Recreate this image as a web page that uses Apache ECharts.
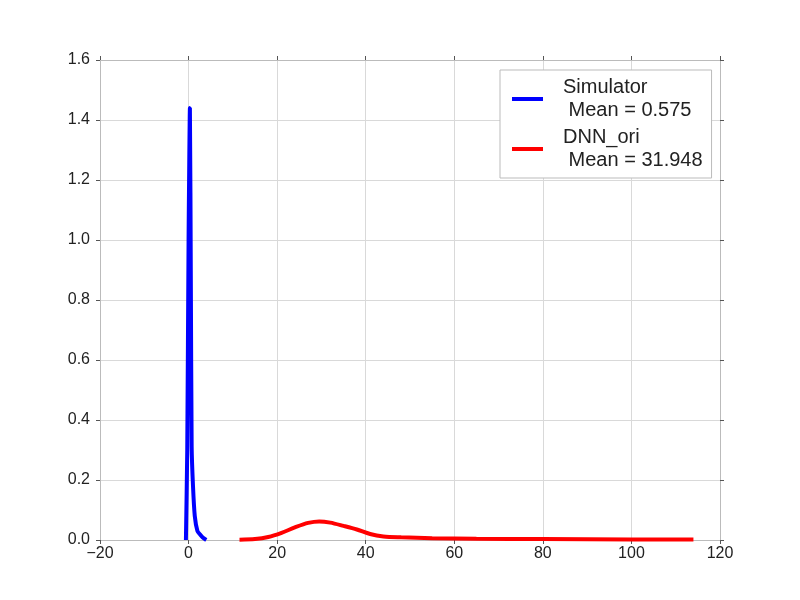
<!DOCTYPE html>
<html>
<head>
<meta charset="utf-8">
<script src="https://cdn.jsdelivr.net/npm/echarts@6/dist/echarts.min.js"></script>
<style>
  html, body { margin: 0; padding: 0; background: #fff; }
  #chart { width: 800px; height: 600px; }
</style>
</head>
<body>
<div id="chart"></div>
<script>
// density curves
var simulatorPts = [
  [-0.6, 0], [-0.3, 0.3], [0.0, 1.0], [0.3, 1.44], [0.5, 0.9], [0.7, 0.31],
  [1.0, 0.18], [1.4, 0.08], [2.0, 0.03], [2.6, 0.018], [3.2, 0.008], [4.0, 0]
];
var dnnPts = [
  [11.5, 0.001], [15, 0.003], [18, 0.01], [21, 0.024], [24, 0.042], [27, 0.057],
  [29.5, 0.062], [32, 0.058], [35, 0.047], [38, 0.035], [41, 0.02], [44, 0.012],
  [48, 0.009], [55, 0.006], [65, 0.004], [80, 0.003], [100, 0.002], [114, 0.002]
];
var seriesNames = ['Simulator\n Mean = 0.575', 'DNN_ori\n Mean = 31.948'];
var seriesColors = ['#0000ff', '#ff0000'];

var font = 'Liberation Sans, Arial, sans-serif';
var chart = echarts.init(document.getElementById('chart'));

var axisLine = { show: true, onZero: false, lineStyle: { color: '#bbbbbb', width: 1 } };
var axisTick = { show: true, inside: false, length: 4, lineStyle: { color: '#555' } };

// top / right copies only carry the frame and the outward ticks
function edgeAxis(pos, isX) {
  return {
    type: 'value',
    position: pos,
    min: isX ? -20 : 0,
    max: isX ? 120 : 1.6,
    interval: isX ? 20 : 0.2,
    axisLine: axisLine,
    axisTick: axisTick,
    splitLine: { show: false },
    axisLabel: { show: false }
  };
}

var option = {
  animation: false,
  grid: { left: 100, right: 80, top: 60, bottom: 60, show: false },
  legend: {
    data: seriesNames,
    orient: 'vertical',
    left: 500,
    top: 70,
    icon: 'rect',
    itemWidth: 31,
    itemHeight: 4,
    itemGap: 4,
    padding: [6, 9, 6, 12],
    borderColor: '#bbbbbb',
    borderWidth: 1,
    backgroundColor: '#fff',
    textStyle: { fontFamily: font, fontSize: 20, color: '#222', lineHeight: 23, padding: [0, 0, 0, 15] }
  },
  xAxis: [{
    type: 'value',
    min: -20, max: 120, interval: 20,
    axisLine: axisLine,
    axisTick: axisTick,
    splitLine: { show: true, lineStyle: { color: '#d9d9d9', width: 1 } },
    axisLabel: { fontFamily: font, fontSize: 16, color: '#222', margin: 6,
      formatter: function (v) { return String(v).replace('-', '\u2212'); } }
  }, edgeAxis('top', true)],
  yAxis: [{
    type: 'value',
    min: 0, max: 1.6, interval: 0.2,
    axisLine: axisLine,
    axisTick: axisTick,
    splitLine: { show: true, lineStyle: { color: '#d9d9d9', width: 1 } },
    axisLabel: { fontFamily: font, fontSize: 16, color: '#222', margin: 10,
      formatter: function (v) { return v.toFixed(1); } }
  }, edgeAxis('right', false)],
  series: [{
    name: seriesNames[0],
    type: 'line',
    data: simulatorPts,
    smooth: 0.2,
    showSymbol: false,
    lineStyle: { color: seriesColors[0], width: 4 },
    itemStyle: { color: seriesColors[0] }
  }, {
    name: seriesNames[1],
    type: 'line',
    data: dnnPts,
    smooth: 0.3,
    showSymbol: false,
    lineStyle: { color: seriesColors[1], width: 4 },
    itemStyle: { color: seriesColors[1] }
  }]
};
chart.setOption(option);
</script>
</body>
</html>
